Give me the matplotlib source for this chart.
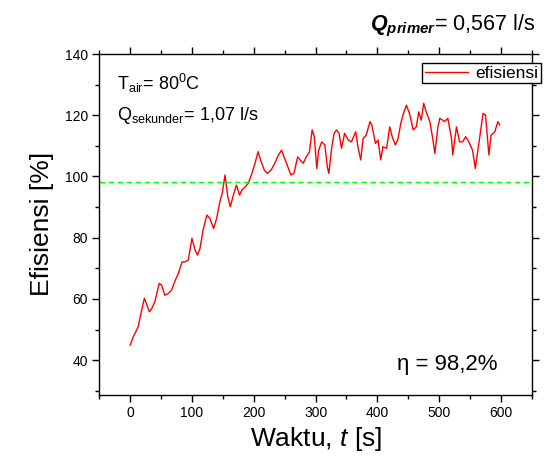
import matplotlib
matplotlib.use("Agg")
import matplotlib.pyplot as plt
from matplotlib.ticker import MultipleLocator

plt.rcParams['font.family'] = ['Liberation Sans', 'DejaVu Sans']
plt.rcParams['mathtext.fontset'] = 'custom'
plt.rcParams['mathtext.rm'] = 'Liberation Sans'
plt.rcParams['mathtext.it'] = 'Liberation Sans:italic'
plt.rcParams['mathtext.bf'] = 'Liberation Sans:bold'
plt.rcParams['mathtext.bfit'] = 'Liberation Sans:bold:italic'

# data
waktu = [0, 5, 13, 18, 23, 31, 35, 40, 47, 51, 56, 62, 67, 73, 78, 84, 89, 94,
         100, 105, 109, 113, 118, 124, 129, 135, 140, 145, 149, 153.5, 158, 162,
         167, 172, 177, 181, 186, 191, 197, 202, 207, 212, 217, 222, 228, 234,
         240, 245, 249, 255, 260, 265, 271, 275, 280, 285, 290, 294.5, 298, 302,
         305, 310, 315, 319, 321.5, 326, 330, 334, 338, 342, 347, 353, 358, 365,
         369, 373, 377, 382, 388, 391, 397, 401, 405.5, 409, 415, 420, 424, 429,
         433, 438, 441.5, 447, 452, 458, 463, 467, 471, 475, 479, 485, 490, 493,
         498, 501, 509, 514, 520, 522, 528, 533, 538, 543, 548, 554, 558.5, 565,
         571, 575, 580.5, 584, 590, 595, 598]
efisiensi = [44.9, 47.6, 50.9, 55.8, 60.2, 55.8, 56.9, 59.1, 65.1, 64.5, 61.2,
             61.8, 62.9, 66.1, 68.3, 72.1, 72.1, 72.7, 79.8, 75.9, 74.3, 76.5,
             82.5, 87.4, 86.3, 83.0, 86.3, 91.7, 94.5, 100.5, 93.4, 90.1, 93.9,
             97.2, 93.9, 95.6, 96.6, 97.7, 101.0, 104.3, 108.1, 104.8, 102.1,
             101.0, 102.1, 104.3, 107.0, 108.6, 106.4, 103.2, 100.5, 101.0, 106.4,
             105.4, 104.3, 106.4, 108.0, 115.2, 113.0, 102.6, 108.6, 111.3, 110.3,
             103.2, 101.0, 109.2, 114.1, 115.2, 114.1, 109.2, 114.1, 111.9, 111.3,
             114.6, 109.2, 105.4, 112.4, 113.5, 117.9, 116.8, 110.8, 111.9, 105.4,
             109.7, 109.2, 116.2, 113.0, 110.3, 111.9, 117.4, 120.1, 123.3, 120.6,
             115.2, 116.2, 121.1, 118.4, 123.9, 121.1, 117.9, 111.9, 107.5, 116.2,
             119.0, 117.9, 119.0, 112.4, 107.0, 116.2, 111.3, 111.3, 113.0, 111.3,
             108.6, 102.6, 111.9, 120.6, 120.1, 107.0, 113.5, 114.6, 117.9, 116.8]
eta = 98.2

fig = plt.figure(figsize=(5.5, 4.57), dpi=100)
ax = fig.add_axes([0.1805, 0.1363, 0.7865, 0.7455])

ax.plot(waktu, efisiensi, color='red', lw=1.0, label='efisiensi')
ax.axhline(eta, color='#00ff00', lw=1.0, ls=(0, (4, 2.5)))

ax.set_xlim(-50, 650)
ax.set_ylim(28.7, 140)
ax.xaxis.set_major_locator(MultipleLocator(100))
ax.xaxis.set_minor_locator(MultipleLocator(50))
ax.yaxis.set_minor_locator(MultipleLocator(10))
ax.set_yticks(range(40, 141, 20))
ax.tick_params(which='both', direction='out', top=True, right=True,
               labelsize=10, width=1, pad=3)
ax.tick_params(which='major', length=5)
ax.tick_params(which='minor', length=3)
for s in ax.spines.values():
    s.set_linewidth(1)

ax.set_xlabel('Waktu, $t$ [s]', fontsize=19, labelpad=4)
ax.set_ylabel('Efisiensi [%]', fontsize=19, labelpad=8)

ax.text(0.041, 0.894, r'$\mathrm{T}_{\mathrm{air}}$= 80$^{0}$C', transform=ax.transAxes,
        fontsize=13, va='baseline')
ax.text(0.041, 0.806, r'$\mathrm{Q}_{\mathrm{sekunder}}$= 1,07 l/s', transform=ax.transAxes,
        fontsize=13, va='baseline')
ax.text(0.921, 0.072, 'η = 98,2%', transform=ax.transAxes, fontsize=16,
        ha='right', va='baseline')

fig.text(0.973, 0.934, r'$\mathbfit{Q}_{\mathbfit{primer}}$= 0,567 l/s',
         fontsize=15.5, ha='right', va='baseline')

leg = ax.legend(loc='upper right', bbox_to_anchor=(541 / 550, 1 - 63 / 457),
                bbox_transform=fig.transFigure, fontsize=12.5, frameon=True,
                fancybox=False, framealpha=1, edgecolor='black',
                borderaxespad=0, borderpad=0.15, handlelength=2.5,
                handletextpad=0.4)
leg.get_frame().set_linewidth(1)

fig.savefig('out.png', dpi=100)
